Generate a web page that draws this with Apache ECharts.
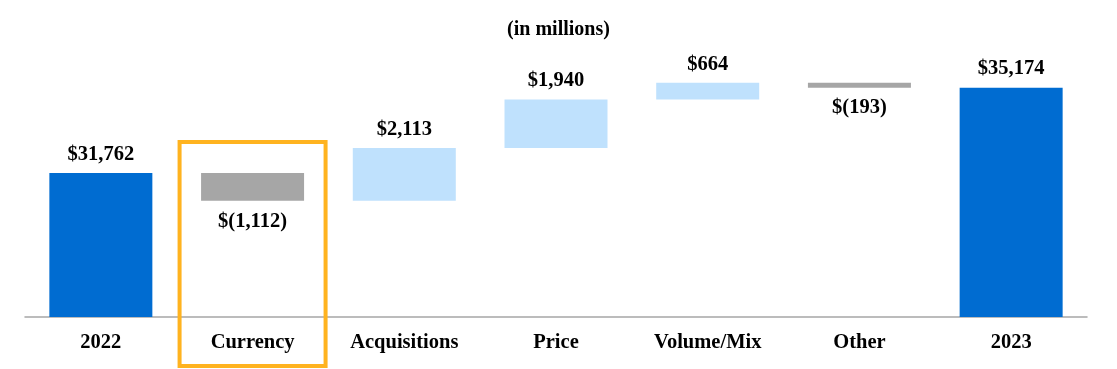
<!DOCTYPE html>
<html><head><meta charset="utf-8">
<script src="https://cdn.jsdelivr.net/npm/echarts@6/dist/echarts.min.js"></script>
<style>html,body{margin:0;padding:0;background:#fff}#c{width:1117px;height:369px}</style>
</head><body><div id="c"></div>
<script>
var categories = ['2022','Currency','Acquisitions','Price','Volume/Mix','Other','2023'];
var changes = [31762, -1112, 2113, 1940, 664, -193, 35174];
var labels = ['$31,762','$(1,112)','$2,113','$1,940','$664','$(193)','$35,174'];
var kinds = ['total','neg','pos','pos','pos','neg','total'];

var colorMap = {total:'#006CD1', pos:'#BFE1FD', neg:'#A6A6A6'};
var base = [], height = [];
var running = 0;
for (var i = 0; i < changes.length; i++) {
  if (kinds[i] === 'total') { base.push(0); height.push(changes[i]); running = changes[i]; }
  else if (changes[i] >= 0) { base.push(running); height.push(changes[i]); running += changes[i]; }
  else { running += changes[i]; base.push(running); height.push(-changes[i]); }
}
var font = 'Liberation Serif';
var chart = echarts.init(document.getElementById('c'));
chart.setOption({
  animation:false,
  title:{text:'(in millions)', left:'center', top:15, textStyle:{fontFamily:font, fontWeight:'bold', fontSize:20, color:'#000'}},
  grid:{left:25, right:30, top:17, bottom:52},
  xAxis:{type:'category', data:categories,
    axisLine:{lineStyle:{color:'#A6A6A6', width:1.5}}, axisTick:{show:false},
    axisLabel:{fontFamily:font, fontWeight:'bold', fontSize:20.5, color:'#000', margin:15}},
  yAxis:{type:'value', min:26000, max:38000, show:false, splitLine:{show:false}},
  series:[
    {type:'bar', stack:'w', data:base, itemStyle:{color:'transparent'}, barWidth:103, silent:true},
    {type:'bar', stack:'w', barWidth:103,
      data:height.map(function(v,i){
        return {value:v, itemStyle:{color:colorMap[kinds[i]]},
          label:{show:true, position: kinds[i]==='neg' ? 'bottom' : 'top', distance: kinds[i]==='neg' ? 10 : 8,
            formatter: labels[i], fontFamily:font, fontWeight:'bold', fontSize:20.5, color:'#000'}};
      })}
  ]
});
var px = chart.convertToPixel({xAxisIndex:0}, 'Currency');
chart.setOption({graphic:[{type:'rect', shape:{x:px-73, y:142, width:146, height:224},
  style:{fill:'none', stroke:'#FFB31F', lineWidth:4}, z:100}]});
</script></body></html>
